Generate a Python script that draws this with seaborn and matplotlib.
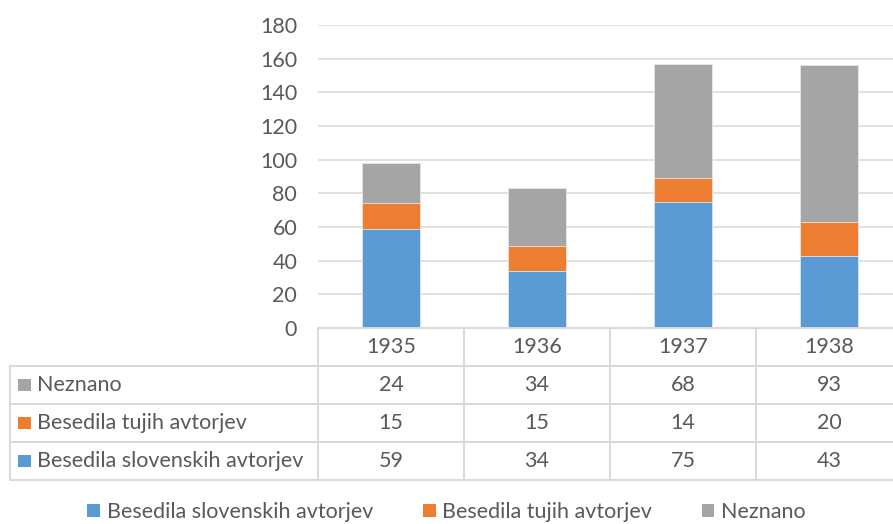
import numpy as np
import matplotlib
matplotlib.use('Agg')
import matplotlib.pyplot as plt
from matplotlib.patches import Patch, Rectangle
import seaborn as sns

# Data
years = ['1935', '1936', '1937', '1938']
slovenski = [59, 34, 75, 43]
tuji = [15, 15, 14, 20]
neznano = [24, 34, 68, 93]

names = ['Besedila slovenskih avtorjev', 'Besedila tujih avtorjev', 'Neznano']
colors = ['#5B9BD5', '#ED7D31', '#A5A5A5']
txt = '#595959'
grid = '#D9D9D9'
fs = 15.5

sns.set_style('white')
plt.rcParams['font.family'] = ['Lato', 'DejaVu Sans']

W, H = 893, 524
fig = plt.figure(figsize=(W / 100, H / 100), dpi=100)

# main plot area (pixel layout of the reference)
ax = fig.add_axes([318 / W, (H - 328) / H, 584 / W, 303 / H])

s = np.array(slovenski)
t = np.array(tuji)
n = np.array(neznano)

# stacked bars: draw totals first, then overlay lower segments
sns.barplot(x=years, y=s + t + n, color=colors[2], width=0.4, ax=ax, saturation=1,
            edgecolor='#E6E6E6', linewidth=0.6)
sns.barplot(x=years, y=s + t, color=colors[1], width=0.4, ax=ax, saturation=1,
            edgecolor='#E6E6E6', linewidth=0.6)
sns.barplot(x=years, y=s, color=colors[0], width=0.4, ax=ax, saturation=1,
            edgecolor='#E6E6E6', linewidth=0.6)

ax.set_xlim(-0.5, 3.5)
ax.set_ylim(0, 180)
ax.set_yticks(range(0, 181, 20))
ax.set_xticks([])
ax.yaxis.grid(True, color=grid, linewidth=1.1)
ax.set_axisbelow(True)
ax.tick_params(axis='y', length=0, pad=15, labelsize=fs, labelcolor=txt)
for sp in ax.spines.values():
    sp.set_visible(False)
ax.set_xlabel('')
ax.set_ylabel('')

# data table below the axis
tab = fig.add_axes([318 / W, (H - 480) / H, 584 / W, 152 / H])
tab.set_xlim(-0.5, 3.5)
tab.set_ylim(4, 0)
tab.axis('off')

left = -0.5 - 308 / 146
lw = 1.4
# horizontal lines
tab.plot([-0.5, 3.5], [0, 0], color=grid, lw=lw, clip_on=False)
for r in [1, 2, 3, 4]:
    tab.plot([left, 3.5], [r, r], color=grid, lw=lw, clip_on=False)
# vertical lines
tab.plot([left, left], [1, 4], color=grid, lw=lw, clip_on=False)
for c in [-0.5, 0.5, 1.5, 2.5]:
    tab.plot([c, c], [0, 4], color=grid, lw=lw, clip_on=False)

for i, y in enumerate(years):
    tab.text(i, 0.5, y, ha='center', va='center', color=txt, fontsize=fs)

rows = [('Neznano', neznano, colors[2]),
        ('Besedila tujih avtorjev', tuji, colors[1]),
        ('Besedila slovenskih avtorjev', slovenski, colors[0])]
for r, (label, vals, col) in enumerate(rows, start=1):
    tab.add_patch(Rectangle((left + 8 / 146, r + 0.5 - 0.17), 13 / 146, 0.34,
                            facecolor=col, edgecolor='none', clip_on=False))
    tab.text(left + 27 / 146, r + 0.5, label, ha='left', va='center',
             color=txt, fontsize=fs)
    for i, v in enumerate(vals):
        tab.text(i, r + 0.5, str(v), ha='center', va='center', color=txt, fontsize=fs)

handles = [Patch(facecolor=c, edgecolor='none') for c in colors]
fig.legend(handles, names, loc='center', bbox_to_anchor=(0.5, 1 - 512 / H),
           ncol=3, frameon=False, fontsize=fs, labelcolor=txt,
           handlelength=0.6, handleheight=0.6, handletextpad=0.3,
           columnspacing=2.3, borderpad=0)

fig.savefig('out.png', dpi=100)
